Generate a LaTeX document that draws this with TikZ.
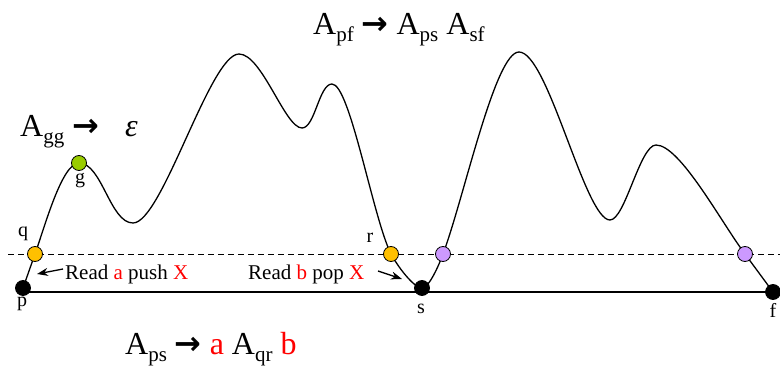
\documentclass[tikz,border=0pt]{standalone}
\usepackage{fontspec}
\setmainfont{Liberation Serif}
\newfontfamily\arrowfont{DejaVu Sans}
\usepackage{xcolor}
\definecolor{stateGold}{HTML}{FFC000}
\definecolor{stateLime}{HTML}{99CC00}
\definecolor{stateLilac}{HTML}{CC99FF}
\usetikzlibrary{arrows.meta,positioning}
% nonterminal with a lowered index, and the bold production arrow
\newcommand{\nterm}[1]{A\raisebox{-7pt}{\fontsize{21}{21}\selectfont #1}}
\newcommand{\prodarrow}{{\arrowfont\bfseries →}}

\begin{document}
\begin{tikzpicture}[
  x=1pt, y=-1pt,
  dot/.style={circle,draw=black,line width=0.8pt,inner sep=0pt,minimum size=15pt},
  lbl/.style={font=\fontsize{20}{22}\selectfont,inner sep=0pt,anchor=base},
  rule/.style={font=\fontsize{32}{36}\selectfont,inner sep=0pt,anchor=base west},
  readnote/.style={font=\fontsize{21}{23}\selectfont,inner sep=0pt,anchor=base west},
  hint/.style={-{Stealth[length=11pt,width=8pt]},line width=1.3pt}
]
\useasboundingbox (0,0) rectangle (780,366);

% points on the run
\coordinate (cp) at (23,288);
\coordinate (cq) at (35,254);
\coordinate (cg) at (79,163);
\coordinate (cr) at (391,254);
\coordinate (cs) at (422,288);
\coordinate (cu) at (443,254);
\coordinate (cv) at (745,254);
\coordinate (cf) at (773,292);

% stack level and ground line
\coordinate (dashL) at (8,254);
\coordinate (dashR) at (780,254);
\draw[dashed,dash pattern=on 6pt off 4pt,line width=0.9pt] (dashL) -- (dashR);
\draw[line width=1.5pt] (cp |- cf) -- (cf);

% the run
\draw[line width=1.3pt] (cp) -- (cq)
  .. controls (45,226) and (62,163) .. (cg)
  .. controls (102,163) and (110,223) .. (133,223)
  .. controls (162,223) and (210,54) .. (239,54)
  .. controls (262,54) and (285,128) .. (302,128)
  .. controls (315,128) and (319,84) .. (332,84)
  .. controls (350,84) and (373,218) .. (cr)
  .. controls (398,267) and (414,288) .. (cs)
  .. controls (429,288) and (439,265) .. (cu)
  .. controls (464,198) and (495,52) .. (519,52)
  .. controls (548,52) and (585,220) .. (610,220)
  .. controls (625,220) and (640,145) .. (656,145)
  .. controls (680,145) and (721,222) .. (cv)
  -- (cf);

% states
\node[dot,fill=black] (p) at (cp) {};
\node[dot,fill=stateGold] (q) at (cq) {};
\node[dot,fill=stateLime] (g) at (cg) {};
\node[dot,fill=stateGold] (r) at (cr) {};
\node[dot,fill=black] (s) at (cs) {};
\node[dot,fill=stateLilac] (u) at (cu) {};
\node[dot,fill=stateLilac] (v) at (cv) {};
\node[dot,fill=black] (f) at (cf) {};

\node[lbl] (pName) at (22,307) {p};
\node[lbl] (qName) at (23,237) {q};
\node[lbl] (gName) at (80,184) {g};
\node[lbl] (rName) at (370,243) {r};
\node[lbl] (sName) at (421,314) {s};
\node[lbl] (fName) at (773,318) {f};

% productions
\node[rule] (ruleTop) at (313,35) {\nterm{pf} \prodarrow{} \nterm{ps} \nterm{sf}};
\node[rule] (ruleEps) at (20,137) {\nterm{gg} \prodarrow\hspace{26pt}{\itshape ε}};
\node[rule] (ruleBot) at (125,355) {\nterm{ps} \prodarrow{} \textcolor{red}{a} \nterm{qr} \textcolor{red}{b}};

% push and pop
\node[readnote] (push) at (65,280) {Read \textcolor{red}{a} push \textcolor{red}{X}};
\node[readnote] (pop) at (248,280) {Read \textcolor{red}{b} pop \textcolor{red}{X}};
\coordinate (pushTail) at (63,269);
\coordinate (pushTip) at (37,274);
\coordinate (popTail) at (378,271);
\coordinate (popTip) at (402,279);
\draw[hint] (pushTail) -- (pushTip);
\draw[hint] (popTail) -- (popTip);
\end{tikzpicture}
\end{document}
